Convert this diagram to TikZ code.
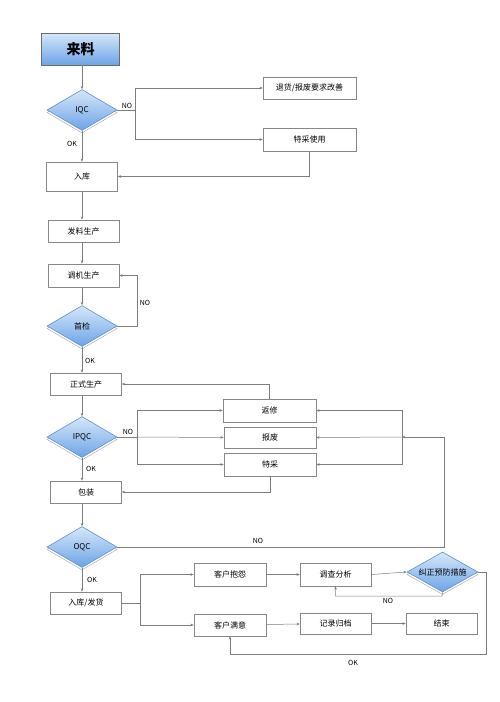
\documentclass[tikz,border=0pt]{standalone}
\usepackage{fontspec}
\setmainfont{Noto Sans CJK SC}
\usetikzlibrary{shapes.geometric,shadows,arrows.meta}
\definecolor{lncol}{RGB}{125,125,125}
\definecolor{bdcol}{RGB}{135,135,135}
\definecolor{dtop}{RGB}{214,231,250}
\definecolor{dbot}{RGB}{108,164,230}
\definecolor{dbd}{RGB}{95,145,210}
\tikzset{
 box/.style={draw=bdcol, line width=0.6pt, fill=white, inner sep=0pt, minimum width=71pt, minimum height=22pt, font=\fontsize{8}{9}\selectfont},
 dia/.style={diamond, aspect=1.75, inner sep=0pt, draw=dbd, line width=0.6pt, top color=dtop, bottom color=dbot, minimum width=70pt, minimum height=41pt, font=\fontsize{8}{9}\selectfont, general shadow={draw=gray!55, fill=white, line width=0.6pt, shadow yshift=-2.5pt}},
 arr/.style={draw=lncol, line width=0.5pt, -{Stealth[length=3.2pt,width=2.6pt]}},
 conn/.style={draw=lncol, line width=0.5pt},
 lab/.style={font=\fontsize{7}{8}\selectfont, inner sep=0pt},
}
\begin{document}
\begin{tikzpicture}[x=1pt,y=-1pt]
\fill[white] (0,0) rectangle (500,702);
\useasboundingbox (0,0) rectangle (500,702);
\coordinate (col) at (82,0);
% main column
\node[box, minimum width=78pt, minimum height=32pt, top color=dtop, bottom color=dbot, draw=gray!85!black, font=\fontsize{14}{16}\selectfont\bfseries] (ll) at (80.5,49) {来料};
\node[dia] (iqc) at (82,110) {IQC};
\node[box, minimum height=29pt] (rk) at (82,176.5) {入库};
\node[box] (fl) at (83.5,231) {发料生产};
\node[box, minimum height=23pt] (tj) at (83.5,275.5) {调机生产};
\node[dia] (sj) at (82,326) {首检};
\node[box] (zs) at (86,384) {正式生产};
\node[dia] (ipqc) at (82,437) {IPQC};
\node[box] (bz) at (86,492) {包装};
\node[dia] (oqc) at (82,547) {OQC};
\node[box] (rkfh) at (86,603) {入库/发货};
% right nodes
\node[box, minimum width=93pt] (thbf) at (309.5,88) {退货/报废要求改善};
\node[box, minimum width=93pt, minimum height=23pt] (tcsy) at (309.5,139.5) {特采使用};
\node[box, minimum width=93pt, minimum height=23pt] (fx) at (269.5,410.5) {返修};
\node[box, minimum width=92pt, minimum height=21pt] (bf) at (270,437.5) {报废};
\node[box, minimum width=92pt, minimum height=23pt] (tc) at (270,464.5) {特采};
\node[box, minimum width=72pt, minimum height=23pt] (khby) at (230,574.5) {客户抱怨};
\node[box, minimum width=71pt, minimum height=23pt] (dcfx) at (335.5,574.5) {调查分析};
\node[dia, minimum width=71pt, minimum height=40pt] (jz) at (442.5,572) {纠正预防措施};
\node[box, minimum width=72pt] (khmy) at (230,625) {客户满意};
\node[box, minimum width=71pt, minimum height=21pt] (jl) at (335.5,623.5) {记录归档};
\node[box, minimum width=71pt, minimum height=21pt] (js) at (441.5,623.5) {结束};
% junctions
\coordinate (j1) at (135,110);
\coordinate (j2) at (137,326);
\coordinate (j3) at (137,437);
\coordinate (j4) at (402,437);
\coordinate (j5) at (444,547);
\coordinate (j6) at (140,603);
\coordinate (j7) at (442,596);
\coordinate (j8) at (486,572);
\coordinate (j9) at (486,654);
% vertical flow
\draw[arr] (ll.south -| col) -- (iqc.north);
\draw[arr] (iqc.south) -- (rk.north -| col);
\draw[arr] (rk.south -| col) -- (fl.north -| col);
\draw[arr] (fl.south -| col) -- (tj.north -| col);
\draw[arr] (tj.south -| col) -- (sj.north);
\draw[arr] (sj.south) -- (zs.north -| col);
\draw[arr] (zs.south -| col) -- (ipqc.north);
\draw[arr] (ipqc.south) -- (bz.north -| col);
\draw[arr] (bz.south -| col) -- (oqc.north);
\draw[arr] (oqc.south) -- (rkfh.north -| col);
% IQC branches
\draw[conn] (iqc.east) -- (j1);
\draw[arr] (j1) |- (thbf.west);
\draw[arr] (j1) |- (tcsy.west);
\draw[arr] (tcsy.south) |- (rk.east);
% first check loop
\draw[arr] (sj.east) -- (j2) |- (tj.east);
% IPQC branches
\draw[conn] (ipqc.east) -- (j3);
\draw[arr] (j3) |- (fx.west);
\draw[arr] (j3) -- (bf.west);
\draw[arr] (j3) |- (tc.west);
\draw[arr] (fx.north) |- (zs.east);
\draw[arr] (tc.south) |- (bz.east);
% OQC NO
\draw[arr] (oqc.east) -- (j5) |- (j4);
\draw[arr] (j4) |- (fx.east);
\draw[arr] (j4) -- (bf.east);
\draw[arr] (j4) |- (tc.east);
% shipping
\draw[conn] (rkfh.east) -- (j6);
\draw[arr] (j6) |- (khby.west);
\draw[arr] (j6) |- (khmy.west);
\draw[arr] (khby) -- (dcfx);
\draw[arr] (dcfx.east) -- (jz.west);
\draw[arr] (jz.south) -- (j7) -| (dcfx.south);
\draw[arr] (jz.east) -- (j8) -- (j9) -| (khmy.south);
\draw[arr] (khmy) -- (jl);
\draw[arr] (jl) -- (js);
% labels
\node[lab] (l1) at (127,106) {NO};
\node[lab] (l2) at (72,144) {OK};
\node[lab] (l3) at (145,303) {NO};
\node[lab] (l4) at (90,361) {OK};
\node[lab] (l5) at (128,432) {NO};
\node[lab] (l6) at (91,469) {OK};
\node[lab] (l7) at (258,541) {NO};
\node[lab] (l8) at (92,580) {OK};
\node[lab] (l9) at (388,601) {NO};
\node[lab] (l10) at (353,663) {OK};
\end{tikzpicture}
\end{document}
